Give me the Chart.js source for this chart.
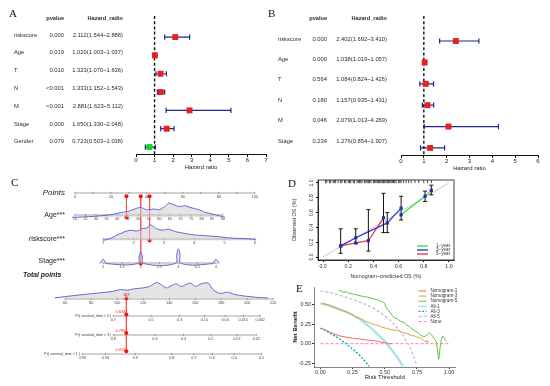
<!DOCTYPE html>
<html><head><meta charset="utf-8">
<script src="https://cdn.jsdelivr.net/npm/chart.js@4.4.1/dist/chart.umd.min.js"></script>
<style>
html,body{margin:0;padding:0;background:#fff;}
#wrap{position:relative;width:550px;height:386px;overflow:hidden;background:#fff;}
canvas{position:absolute;}
.lt{position:absolute;font-family:"Liberation Serif","DejaVu Serif",serif;font-size:11px;color:#111;line-height:1;}
</style></head>
<body><div id="wrap">
<canvas id="cA" width="275" height="171" style="left:0;top:0"></canvas>
<canvas id="cB" width="275" height="172" style="left:275px;top:0"></canvas>
<canvas id="cC" width="285" height="216" style="left:0;top:170px"></canvas>
<canvas id="cD" width="170" height="108" style="left:290px;top:172px"></canvas>
<canvas id="cE" width="170" height="101" style="left:290px;top:280px"></canvas>
<div class="lt" style="left:9px;top:8px">A</div>
<div class="lt" style="left:268px;top:8px">B</div>
<div class="lt" style="left:11px;top:177px">C</div>
<div class="lt" style="left:288px;top:178px">D</div>
<div class="lt" style="left:296px;top:283px">E</div>
</div>
<script>
// ================= DATA =================
// Panel A (univariate Cox)
const aVars   = ['riskscore','Age','T','N','M','Stage','Gender'];
const aPvalue = ['0.000','0.019','0.010','<0.001','<0.001','0.000','0.079'];
const aHR     = [2.112,1.020,1.323,1.333,2.881,1.650,0.723];
const aLower  = [1.544,1.003,1.070,1.152,1.623,1.330,0.503];
const aUpper  = [2.888,1.037,1.636,1.543,5.112,2.048,1.038];
const aTicks  = [0,1,2,3,4,5,6,7];
// Panel B (multivariate Cox)
const bVars   = ['riskscore','Age','T','N','M','Stage'];
const bPvalue = ['0.000','0.000','0.564','0.180','0.046','0.234'];
const bHR     = [2.402,1.038,1.084,1.157,2.079,1.276];
const bLower  = [1.692,1.019,0.824,0.935,1.013,0.854];
const bUpper  = [3.410,1.057,1.426,1.431,4.269,1.907];
const bTicks  = [0,1,2,3,4,5,6];

// Panel C (nomogram)
const pointsTicks = [0,10,20,30,40,50,60,70,80,90,100];
const ageTicks    = [20,25,30,35,40,45,50,55,60,65,70,75,80,85,90];
const ageRangePts = [[20,0],[90,82.2]];
const riskTicks   = [1,2,3,4,5,6];
const riskRangePts= [[1,15.7],[6,100]];
const stageTicks  = [1,1.5,2,2.5,3,3.5,4];
const stageRangePts=[[1,15.7],[4,78.4]];
const totalTicks  = [60,80,100,120,140,160,180,200,220];
const surv5Labels = ['0.7','0.5','0.3','0.15','0.04','0.015','0.002'];
const surv5At     = [97,126,148,167,183,197,210];
const surv3Labels = ['0.8','0.6','0.4','0.2','0.07','0.02'];
const surv3At     = [97,129,151,172,192,207];
const surv1Labels = ['0.98','0.94','0.9','0.8','0.7','0.6','0.4','0.1'];
const surv1At     = [73,91,114,142,159,173,190,211];
const ageDensity  = [[18.6,0],[24,0.5],[29,1],[33,1.8],[37,2.7],[42.5,5.3],[45,6],[47.5,8],[51,10.3],[53,8.7],[54.5,7.7],[57.5,8.7],[60,8],[63,12],[64.5,14.7],[67,13],[69,11.3],[72.5,12],[74.5,10.3],[78.5,8],[81.5,5.3],[86.5,2.7],[91,0]];
const riskDensity = [[1.0,0],[1.25,2.3],[1.55,7],[1.9,10.7],[2.1,9.7],[2.3,12.3],[2.45,13],[2.55,16.3],[2.75,12.3],[2.95,10.7],[3.15,11.7],[3.4,9],[3.7,7.3],[4.0,5.7],[4.35,5],[4.75,4],[5.3,2.3],[5.8,1.7],[6.05,0.5]];
const stageDensity= [[0.92,0],[0.96,3],[1.0,4.3],[1.04,3],[1.08,0],[1.92,0],[1.96,8],[2.0,12],[2.04,8],[2.08,0],[2.92,0],[2.96,10],[3.0,15.3],[3.04,10],[3.08,0],[3.92,0],[3.96,3],[4.0,4.3],[4.04,3],[4.08,0]];
const totalDensity= [[52,0.3],[60,1.7],[75,4],[87.7,5.7],[97.4,7.3],[102.6,9],[107.9,8.3],[112.3,9.7],[119.8,10.7],[125,12.3],[130.3,16.3],[134,14],[137.8,10.7],[141.5,13],[145.2,15],[149,12.3],[152.7,14],[156.5,15.7],[160.2,12.3],[164.7,15],[169.9,15.7],[173.6,9],[178.9,5],[184.9,6.3],[190.1,4],[197.6,2.3],[209.5,0.7],[216,0.2]];
const patientAge = 44.4, patientRisk = 2.53, patientStage = 2, patientTotal = 107;
const patientSurv = ['0.634','0.795','0.913'];

// Panel D (calibration)
const dPred1 = [0.62,0.81,0.86], dObs1 = [0.57,0.82,0.90], dLo1 = [null,0.75,0.84], dHi1 = [null,0.89,0.97];
const dPred3 = [0.14,0.26,0.51,0.62], dObs3 = [0.15,0.26,0.46,0.66], dLo3 = [0.05,0.18,0.33,0.50], dHi3 = [0.38,0.38,0.60,0.82];
const dPred5 = [0.14,0.26,0.36,0.48], dObs5 = [0.15,0.19,0.22,0.53], dLo5 = [null,null,0.08,0.33], dHi5 = [null,null,0.64,0.86];
const dTicks = [0,0.2,0.4,0.6,0.8,1.0];
const dRug = [0.02,0.03,0.05,0.06,0.08,0.09,0.1,0.12,0.14,0.15,0.17,0.18,0.2,0.21,0.22,0.24,0.25,0.27,0.28,0.29,0.3,0.31,0.33,0.34,0.35,0.36,0.37,0.38,0.4,0.41,0.42,0.43,0.44,0.45,0.46,0.47,0.48,0.49,0.5,0.51,0.52,0.53,0.54,0.55,0.56,0.57,0.58,0.6,0.61,0.62,0.64,0.66,0.68,0.7,0.73,0.76,0.8,0.83,0.86];

// Panel E (decision curves)
const eNomo1 = [[0.01,0.20],[0.05,0.17],[0.1,0.13],[0.15,0.10],[0.2,0.085],[0.25,0.07],[0.3,0.06],[0.35,0.05],[0.4,0.04],[0.45,0.03],[0.5,0.012],[0.53,0.0],[0.55,0.0]];
const eNomo3 = [[0.01,0.52],[0.05,0.505],[0.1,0.475],[0.15,0.445],[0.2,0.41],[0.25,0.375],[0.28,0.34],[0.3,0.335],[0.35,0.29],[0.38,0.27],[0.4,0.255],[0.43,0.24],[0.45,0.235],[0.48,0.21],[0.5,0.205],[0.53,0.19],[0.55,0.18],[0.58,0.175],[0.6,0.17],[0.63,0.15],[0.65,0.14],[0.68,0.13],[0.7,0.11],[0.73,0.1],[0.75,0.085],[0.78,0.07],[0.8,0.05],[0.82,0.02],[0.83,0.04],[0.84,0.01]];
const eNomo5 = [[0.14,0.69],[0.16,0.68],[0.18,0.66],[0.2,0.67],[0.22,0.65],[0.25,0.64],[0.28,0.63],[0.3,0.62],[0.33,0.61],[0.36,0.6],[0.39,0.59],[0.42,0.575],[0.45,0.56],[0.48,0.54],[0.5,0.52],[0.51,0.47],[0.52,0.44],[0.54,0.41],[0.56,0.36],[0.58,0.33],[0.6,0.32],[0.62,0.29],[0.65,0.27],[0.67,0.24],[0.7,0.21],[0.72,0.18],[0.74,0.16],[0.76,0.14],[0.78,0.11],[0.8,0.09],[0.82,0.1],[0.84,0.13],[0.85,0.14],[0.87,0.1],[0.89,0.05],[0.9,0.03],[0.91,-0.08],[0.92,-0.2],[0.93,-0.05],[0.94,0.05],[0.95,0.1],[0.96,0.08],[0.97,0.05],[0.98,0.03]];
const eAll1 = [[0.0,0.52],[0.05,0.5],[0.1,0.47],[0.15,0.44],[0.2,0.41],[0.25,0.37],[0.3,0.32],[0.35,0.26],[0.4,0.19],[0.45,0.11],[0.5,0.03],[0.55,-0.07],[0.6,-0.18],[0.64,-0.29]];
const eAll3 = [[0.0,0.2],[0.05,0.16],[0.1,0.11],[0.15,0.06],[0.2,0.0],[0.25,-0.07],[0.3,-0.14],[0.35,-0.23],[0.38,-0.29]];
const eAll5 = [[0.0,0.68],[0.1,0.65],[0.2,0.6],[0.3,0.54],[0.4,0.47],[0.5,0.36],[0.55,0.29],[0.6,0.2],[0.65,0.09],[0.7,-0.06],[0.75,-0.28]];
const eNone = [[0,0],[1,0]];
const eXTicks = [0,0.25,0.5,0.75,1];
const eYTicks = [-0.25,0,0.25,0.5];

// ================= CHARTS =================
Chart.defaults.font.family = '"Liberation Sans", Arial, sans-serif';
Chart.defaults.color = '#222';
const common = {responsive:false, animation:false, devicePixelRatio:1, events:[],
  plugins:{legend:{display:false}, tooltip:{enabled:false}}};
const FONT = '"Liberation Sans", Arial, sans-serif';
const toXY = arr => arr.map(p => ({x:p[0], y:p[1]}));

function forestChart(id, vars, pv, hr, lo, hi, ticks, L) {
  const n = vars.length, f = v => v.toFixed(3);
  const hrText = hr.map((v,i) => `${f(v)}(${f(lo[i])}~${f(hi[i])})`);
  const extras = {
    id:'forestExtras',
    beforeDatasetsDraw(chart) {
      const {ctx, scales:{x, y}} = chart;
      ctx.save(); ctx.strokeStyle = '#1b2a8c'; ctx.lineWidth = 1.2;
      for (let i = 0; i < n; i++) {
        const py = y.getPixelForValue(i), x0 = x.getPixelForValue(lo[i]), x1 = x.getPixelForValue(hi[i]);
        ctx.beginPath();
        ctx.moveTo(x0,py); ctx.lineTo(x1,py);
        ctx.moveTo(x0,py-2.6); ctx.lineTo(x0,py+2.6);
        ctx.moveTo(x1,py-2.6); ctx.lineTo(x1,py+2.6);
        ctx.stroke();
      }
      ctx.restore();
    },
    afterDraw(chart) {
      const {ctx, scales:{y}} = chart;
      ctx.save(); ctx.fillStyle = '#2a2a2a'; ctx.textBaseline = 'middle';
      ctx.font = 'bold 5.6px ' + FONT; ctx.textAlign = 'right';
      ctx.fillText('pvalue', L.pvRight, L.headY);
      ctx.fillText('Hazard_radio', L.hrRight, L.headY);
      ctx.font = '5.8px ' + FONT;
      for (let i = 0; i < n; i++) {
        const ty = y.getPixelForValue(i * L.textStep) - 2;
        ctx.textAlign = 'left'; ctx.fillText(vars[i], L.labelX, ty);
        ctx.textAlign = 'right'; ctx.fillText(pv[i], L.pvRight, ty); ctx.fillText(hrText[i], L.hrRight, ty);
      }
      ctx.restore();
    }
  };
  const cols = hr.map(v => v < 1 ? '#1ed31e' : '#e8201e');
  new Chart(document.getElementById(id), {
    type:'scatter',
    data:{datasets:[
      {data:hr.map((v,i)=>({x:v,y:i})), pointStyle:'rect', pointRadius:4.2, pointBackgroundColor:cols, pointBorderColor:cols, pointBorderWidth:0},
      {data:[{x:1,y:L.yMin},{x:1,y:L.yMax}], showLine:true, borderColor:'#111', borderWidth:1.4, borderDash:[3,2.2], pointRadius:0}
    ]},
    options:{...common, layout:{padding:{left:L.left, right:L.right, top:L.top, bottom:0}},
      scales:{
        x:{type:'linear', min:ticks[0], max:ticks[ticks.length-1],
           afterBuildTicks:s=>{s.ticks = ticks.map(v=>({value:v}));}, afterFit:s=>{s.height = 17;},
           ticks:{font:{size:6}, padding:0, color:'#222'},
           grid:{drawOnChartArea:false, tickLength:3, color:'#111'}, border:{color:'#111', width:1},
           title:{display:true, text:'Hazard ratio', font:{size:6}, padding:{top:0,bottom:0}, color:'#222'}},
        y:{type:'linear', display:false, min:L.yMin, max:L.yMax, reverse:true}
      }},
    plugins:[extras]
  });
}

forestChart('cA', aVars, aPvalue, aHR, aLower, aUpper, aTicks,
  {left:136, right:9, top:16, yMin:-1.15, yMax:6.38, labelX:14, pvRight:64, hrRight:123, headY:18, textStep:0.971});
forestChart('cB', bVars, bPvalue, bHR, bLower, bUpper, bTicks,
  {left:126, right:12, top:16, yMin:-1.17, yMax:5.33, labelX:3, pvRight:52, hrRight:112, headY:18, textStep:0.953});

// ---------- Panel C ----------
(function(){
  const W = 285;
  const P0 = 73, PPU = 1.85;               // points axis layout
  const pMin = (0 - P0)/PPU, pMax = (W - P0)/PPU;
  const varScale = (r) => { const [[v0,p0],[v1,p1]] = r; const k = (v1-v0)/(p1-p0); return {min:v0+(pMin-p0)*k, max:v0+(pMax-p0)*k}; };
  const T0 = 60, TPX = 63, TPU = 1.3375;    // total points axis layout
  const rows = {points:23, age:45, risk:69, stage:93, totalTitle:105, total:129, s5:146, s3:165, s1:184};
  const hidden = {display:false};
  const dens = (arr, row, axis) => ({data:arr.map(p=>({x:p[0], y:row - p[1]})), xAxisID:axis, borderColor:'#6767d8', borderWidth:1,
     backgroundColor:'rgba(205,205,205,0.55)', fill:{value:row}, pointRadius:0, tension:0.3});
  const red = (xv, ys, axis, radii) => ({data:ys.map(y=>({x:xv, y})), xAxisID:axis, borderColor:'#ff4d4d', borderWidth:0.8,
     pointRadius:radii, pointBackgroundColor:'#ee1111', pointBorderWidth:0, fill:false});
  const axisPlugin = {
    id:'nomoAxes',
    beforeDatasetsDraw(chart){
      const {ctx, scales:s} = chart;
      const drawAxis = (scale, y, ticks, labels) => {
        const xs = ticks.map(v => scale.getPixelForValue(v));
        ctx.strokeStyle = '#8c8c8c'; ctx.lineWidth = 0.8;
        ctx.beginPath(); ctx.moveTo(Math.min(...xs), y); ctx.lineTo(Math.max(...xs), y);
        xs.forEach(px => { ctx.moveTo(px, y-1.2); ctx.lineTo(px, y+1.2); });
        ctx.stroke();
        ctx.fillStyle = '#444'; ctx.font = '3.8px ' + FONT; ctx.textAlign = 'center'; ctx.textBaseline = 'top';
        labels.forEach((t,i) => { if (t !== '') ctx.fillText(t, xs[i], y + 1.6); });
        return xs;
      };
      ctx.save();
      drawAxis(s.x, rows.points, pointsTicks, pointsTicks.map(v => v % 20 === 0 ? String(v) : ''));
      drawAxis(s.xAge, rows.age, ageTicks, ageTicks.map(String));
      drawAxis(s.xRisk, rows.risk, riskTicks, riskTicks.map(String));
      drawAxis(s.xStage, rows.stage, stageTicks, stageTicks.map(String));
      drawAxis(s.xt, rows.total, totalTicks, totalTicks.map(String));
      const survRows = [[rows.s5, surv5At, surv5Labels, '5'], [rows.s3, surv3At, surv3Labels, '3'], [rows.s1, surv1At, surv1Labels, '1']];
      survRows.forEach(([y, at, lab, yr]) => {
        const xs = drawAxis(s.xt, y, at, lab);
        ctx.fillStyle = '#333'; ctx.font = '3.7px ' + FONT; ctx.textAlign = 'right'; ctx.textBaseline = 'middle';
        ctx.fillText('Pr( survival_time > ' + yr + ' )', Math.min(...xs) - 2, y);
      });
      // variable names
      ctx.fillStyle = '#222'; ctx.textAlign = 'right'; ctx.textBaseline = 'middle';
      ctx.font = 'italic 8px ' + FONT; ctx.fillText('Points', 65, rows.points);
      ctx.font = '7px ' + FONT;
      ctx.fillText('Age***', 65, rows.age);
      ctx.fillText('riskscore***', 65, rows.risk);
      ctx.fillText('Stage***', 65, rows.stage - 2);
      ctx.textAlign = 'left'; ctx.font = 'bold italic 6.8px ' + FONT;
      ctx.fillText('Total points', 23, rows.totalTitle);
      ctx.restore();
    },
    afterDatasetsDraw(chart){
      const {ctx, scales:s} = chart;
      ctx.save(); ctx.fillStyle = '#ee1111'; ctx.font = '3.9px ' + FONT; ctx.textBaseline = 'bottom';
      const px = s.xt.getPixelForValue(patientTotal);
      ctx.textAlign = 'center'; ctx.fillText(String(patientTotal), px, rows.total - 2);
      ctx.textAlign = 'right';
      [rows.s5, rows.s3, rows.s1].forEach((y,i) => ctx.fillText(patientSurv[i], px - 1, y - 2));
      ctx.restore();
    }
  };
  new Chart(document.getElementById('cC'), {
    type:'line',
    data:{datasets:[
      dens(ageDensity, rows.age, 'xAge'),
      dens(riskDensity, rows.risk, 'xRisk'),
      {...dens(stageDensity, rows.stage, 'xStage'), tension:0.4},
      dens(totalDensity, rows.total, 'xt'),
      red(patientAge, [rows.points, rows.age], 'xAge', 2),
      red(patientRisk, [rows.points, rows.risk], 'xRisk', 2),
      red(patientStage, [rows.points, rows.stage], 'xStage', 2),
      red(patientTotal, [rows.total - 5, rows.total, rows.s5, rows.s3, rows.s1], 'xt', [0,2,2,2,2])
    ]},
    options:{...common, layout:{padding:0},
      scales:{
        x:{type:'linear', min:pMin, max:pMax, ...hidden},
        xAge:{type:'linear', ...varScale(ageRangePts), ...hidden},
        xRisk:{type:'linear', ...varScale(riskRangePts), ...hidden},
        xStage:{type:'linear', ...varScale(stageRangePts), ...hidden},
        xt:{type:'linear', min:T0 - TPX/TPU, max:T0 + (W - TPX)/TPU, ...hidden},
        y:{type:'linear', min:0, max:216, reverse:true, ...hidden}
      }},
    plugins:[axisPlugin]
  });
})();

// ---------- Panel D ----------
(function(){
  const series = [
    {name:'1\u2212year', color:'#3fe03f', x:dPred1, y:dObs1, lo:dLo1, hi:dHi1},
    {name:'3\u2212year', color:'#3434d4', x:dPred3, y:dObs3, lo:dLo3, hi:dHi3},
    {name:'5\u2212year', color:'#f03c3c', x:dPred5, y:dObs5, lo:dLo5, hi:dHi5}
  ];
  const extras = {
    id:'calExtras',
    afterDatasetsDraw(chart){
      const {ctx, chartArea:a, scales:{x, y}} = chart;
      ctx.save();
      // error bars
      ctx.strokeStyle = '#111'; ctx.lineWidth = 1;
      series.forEach(s => s.x.forEach((xv,i) => {
        if (s.lo[i] == null) return;
        const px = x.getPixelForValue(xv), y0 = y.getPixelForValue(s.lo[i]), y1 = y.getPixelForValue(s.hi[i]);
        ctx.beginPath(); ctx.moveTo(px,y0); ctx.lineTo(px,y1);
        ctx.moveTo(px-2,y0); ctx.lineTo(px+2,y0); ctx.moveTo(px-2,y1); ctx.lineTo(px+2,y1); ctx.stroke();
      }));
      // markers
      ctx.fillStyle = '#2030b8';
      series.forEach(s => s.x.forEach((xv,i) => {
        const px = x.getPixelForValue(xv), py = y.getPixelForValue(s.y[i]);
        ctx.fillRect(px-1.6, py-1.6, 3.2, 3.2);
      }));
      // rug
      ctx.strokeStyle = '#000'; ctx.lineWidth = 0.7;
      dRug.forEach(v => { const px = x.getPixelForValue(v); ctx.beginPath(); ctx.moveTo(px, a.top); ctx.lineTo(px, a.top + 3.2); ctx.stroke(); });
      // box
      ctx.strokeStyle = '#111'; ctx.lineWidth = 0.8; ctx.strokeRect(a.left, a.top, a.right - a.left, a.bottom - a.top);
      // y tick labels (rotated, R style)
      ctx.fillStyle = '#333'; ctx.font = '5px ' + FONT; ctx.textAlign = 'center'; ctx.textBaseline = 'bottom';
      dTicks.forEach(v => { ctx.save(); ctx.translate(a.left - 4, y.getPixelForValue(v)); ctx.rotate(-Math.PI/2); ctx.fillText(v.toFixed(1), 0, 0); ctx.restore(); });
      // legend
      ctx.font = '4.6px ' + FONT; ctx.textAlign = 'left'; ctx.textBaseline = 'middle'; ctx.lineWidth = 1.4;
      series.forEach((s,i) => {
        const ly = a.bottom - 14 + i*4;
        ctx.strokeStyle = s.color; ctx.beginPath(); ctx.moveTo(a.right - 37, ly); ctx.lineTo(a.right - 26, ly); ctx.stroke();
        ctx.fillStyle = '#333'; ctx.fillText(s.name, a.right - 18, ly);
      });
      ctx.restore();
    }
  };
  new Chart(document.getElementById('cD'), {
    type:'scatter',
    data:{datasets:[
      ...series.map(s => ({data:s.x.map((v,i)=>({x:v, y:s.y[i]})), showLine:true, borderColor:s.color, borderWidth:1.3, pointRadius:0})),
      {data:[{x:0,y:0},{x:1,y:1}], showLine:true, borderColor:'#c8c8c8', borderWidth:1, pointRadius:0}
    ]},
    options:{...common, layout:{padding:{left:0, right:6, top:8, bottom:0}},
      scales:{
        x:{type:'linear', min:-0.04, max:1.04, afterBuildTicks:s=>{s.ticks = dTicks.map(v=>({value:v}));}, afterFit:s=>{s.height = 20;},
           ticks:{font:{size:5.2}, padding:1, color:'#333', callback:v=>v.toFixed(1)},
           grid:{drawOnChartArea:false, tickLength:2, color:'#111'}, border:{color:'#111', width:0.8},
           title:{display:true, text:'Nomogram\u2212predicted OS (%)', font:{size:5.4}, padding:{top:0,bottom:0}, color:'#333'}},
        y:{type:'linear', min:-0.04, max:1.04, afterBuildTicks:s=>{s.ticks = dTicks.map(v=>({value:v}));}, afterFit:s=>{s.width = 28;},
           ticks:{display:false},
           grid:{drawOnChartArea:false, tickLength:2, color:'#111'}, border:{color:'#111', width:0.8},
           title:{display:true, text:'Observed OS (%)', font:{size:5.4}, padding:{top:1,bottom:0}, color:'#333'}}
      }},
    plugins:[extras]
  });
})();

// ---------- Panel E ----------
(function(){
  const sets = [
    {label:'Nomogram-1', data:eNomo1, color:'#f26b5b', width:1, dash:[]},
    {label:'Nomogram-3', data:eNomo3, color:'#d9a43a', width:1, dash:[]},
    {label:'Nomogram-5', data:eNomo5, color:'#63c63c', width:1, dash:[]},
    {label:'All-1', data:eAll1, color:'#a9e3e8', width:2.4, dash:[]},
    {label:'All-3', data:eAll3, color:'#1faa98', width:1.4, dash:[2,1.6]},
    {label:'All-5', data:eAll5, color:'#cbbfe6', width:1.4, dash:[3,2]},
    {label:'None', data:eNone, color:'#f27cc9', width:1, dash:[3,2]}
  ];
  const legend = {
    id:'dcaLegend',
    afterDraw(chart){
      const {ctx, chartArea:a} = chart;
      ctx.save(); ctx.font = '4.6px ' + FONT; ctx.textAlign = 'left'; ctx.textBaseline = 'middle';
      sets.forEach((s,i) => {
        const ly = a.top + 4 + i*5.1;
        ctx.strokeStyle = s.color; ctx.lineWidth = Math.min(s.width, 1.6); ctx.setLineDash(s.dash);
        ctx.beginPath(); ctx.moveTo(a.right - 37, ly); ctx.lineTo(a.right - 29, ly); ctx.stroke();
        ctx.setLineDash([]); ctx.fillStyle = '#333'; ctx.fillText(s.label, a.right - 25, ly);
      });
      ctx.restore();
    }
  };
  new Chart(document.getElementById('cE'), {
    type:'scatter',
    data:{datasets: sets.map(s => ({data:toXY(s.data), showLine:true, borderColor:s.color, borderWidth:s.width, borderDash:s.dash, pointRadius:0}))},
    options:{...common, layout:{padding:{left:0, right:4.5, top:7, bottom:0}},
      scales:{
        x:{type:'linear', min:-0.05, max:1.05, afterBuildTicks:s=>{s.ticks = eXTicks.map(v=>({value:v}));}, afterFit:s=>{s.height = 14;},
           ticks:{font:{size:5.4}, padding:0, color:'#333', callback:v=>v.toFixed(2)},
           grid:{drawOnChartArea:false, tickLength:2, color:'#333'}, border:{color:'#333', width:0.6},
           title:{display:true, text:'Risk Threshold', font:{size:6}, padding:{top:0,bottom:0}, color:'#222'}},
        y:{type:'linear', min:-0.3, max:0.73, afterBuildTicks:s=>{s.ticks = eYTicks.map(v=>({value:v}));}, afterFit:s=>{s.width = 24;},
           ticks:{font:{size:5.4}, padding:1, color:'#333', callback:v=>v.toFixed(2)},
           grid:{drawOnChartArea:false, tickLength:2, color:'#333'}, border:{color:'#333', width:0.6},
           title:{display:true, text:'Net Benefit', font:{size:6, weight:'bold'}, padding:{top:2,bottom:0}, color:'#222'}}
      }},
    plugins:[legend]
  });
})();
</script>
</body></html>
